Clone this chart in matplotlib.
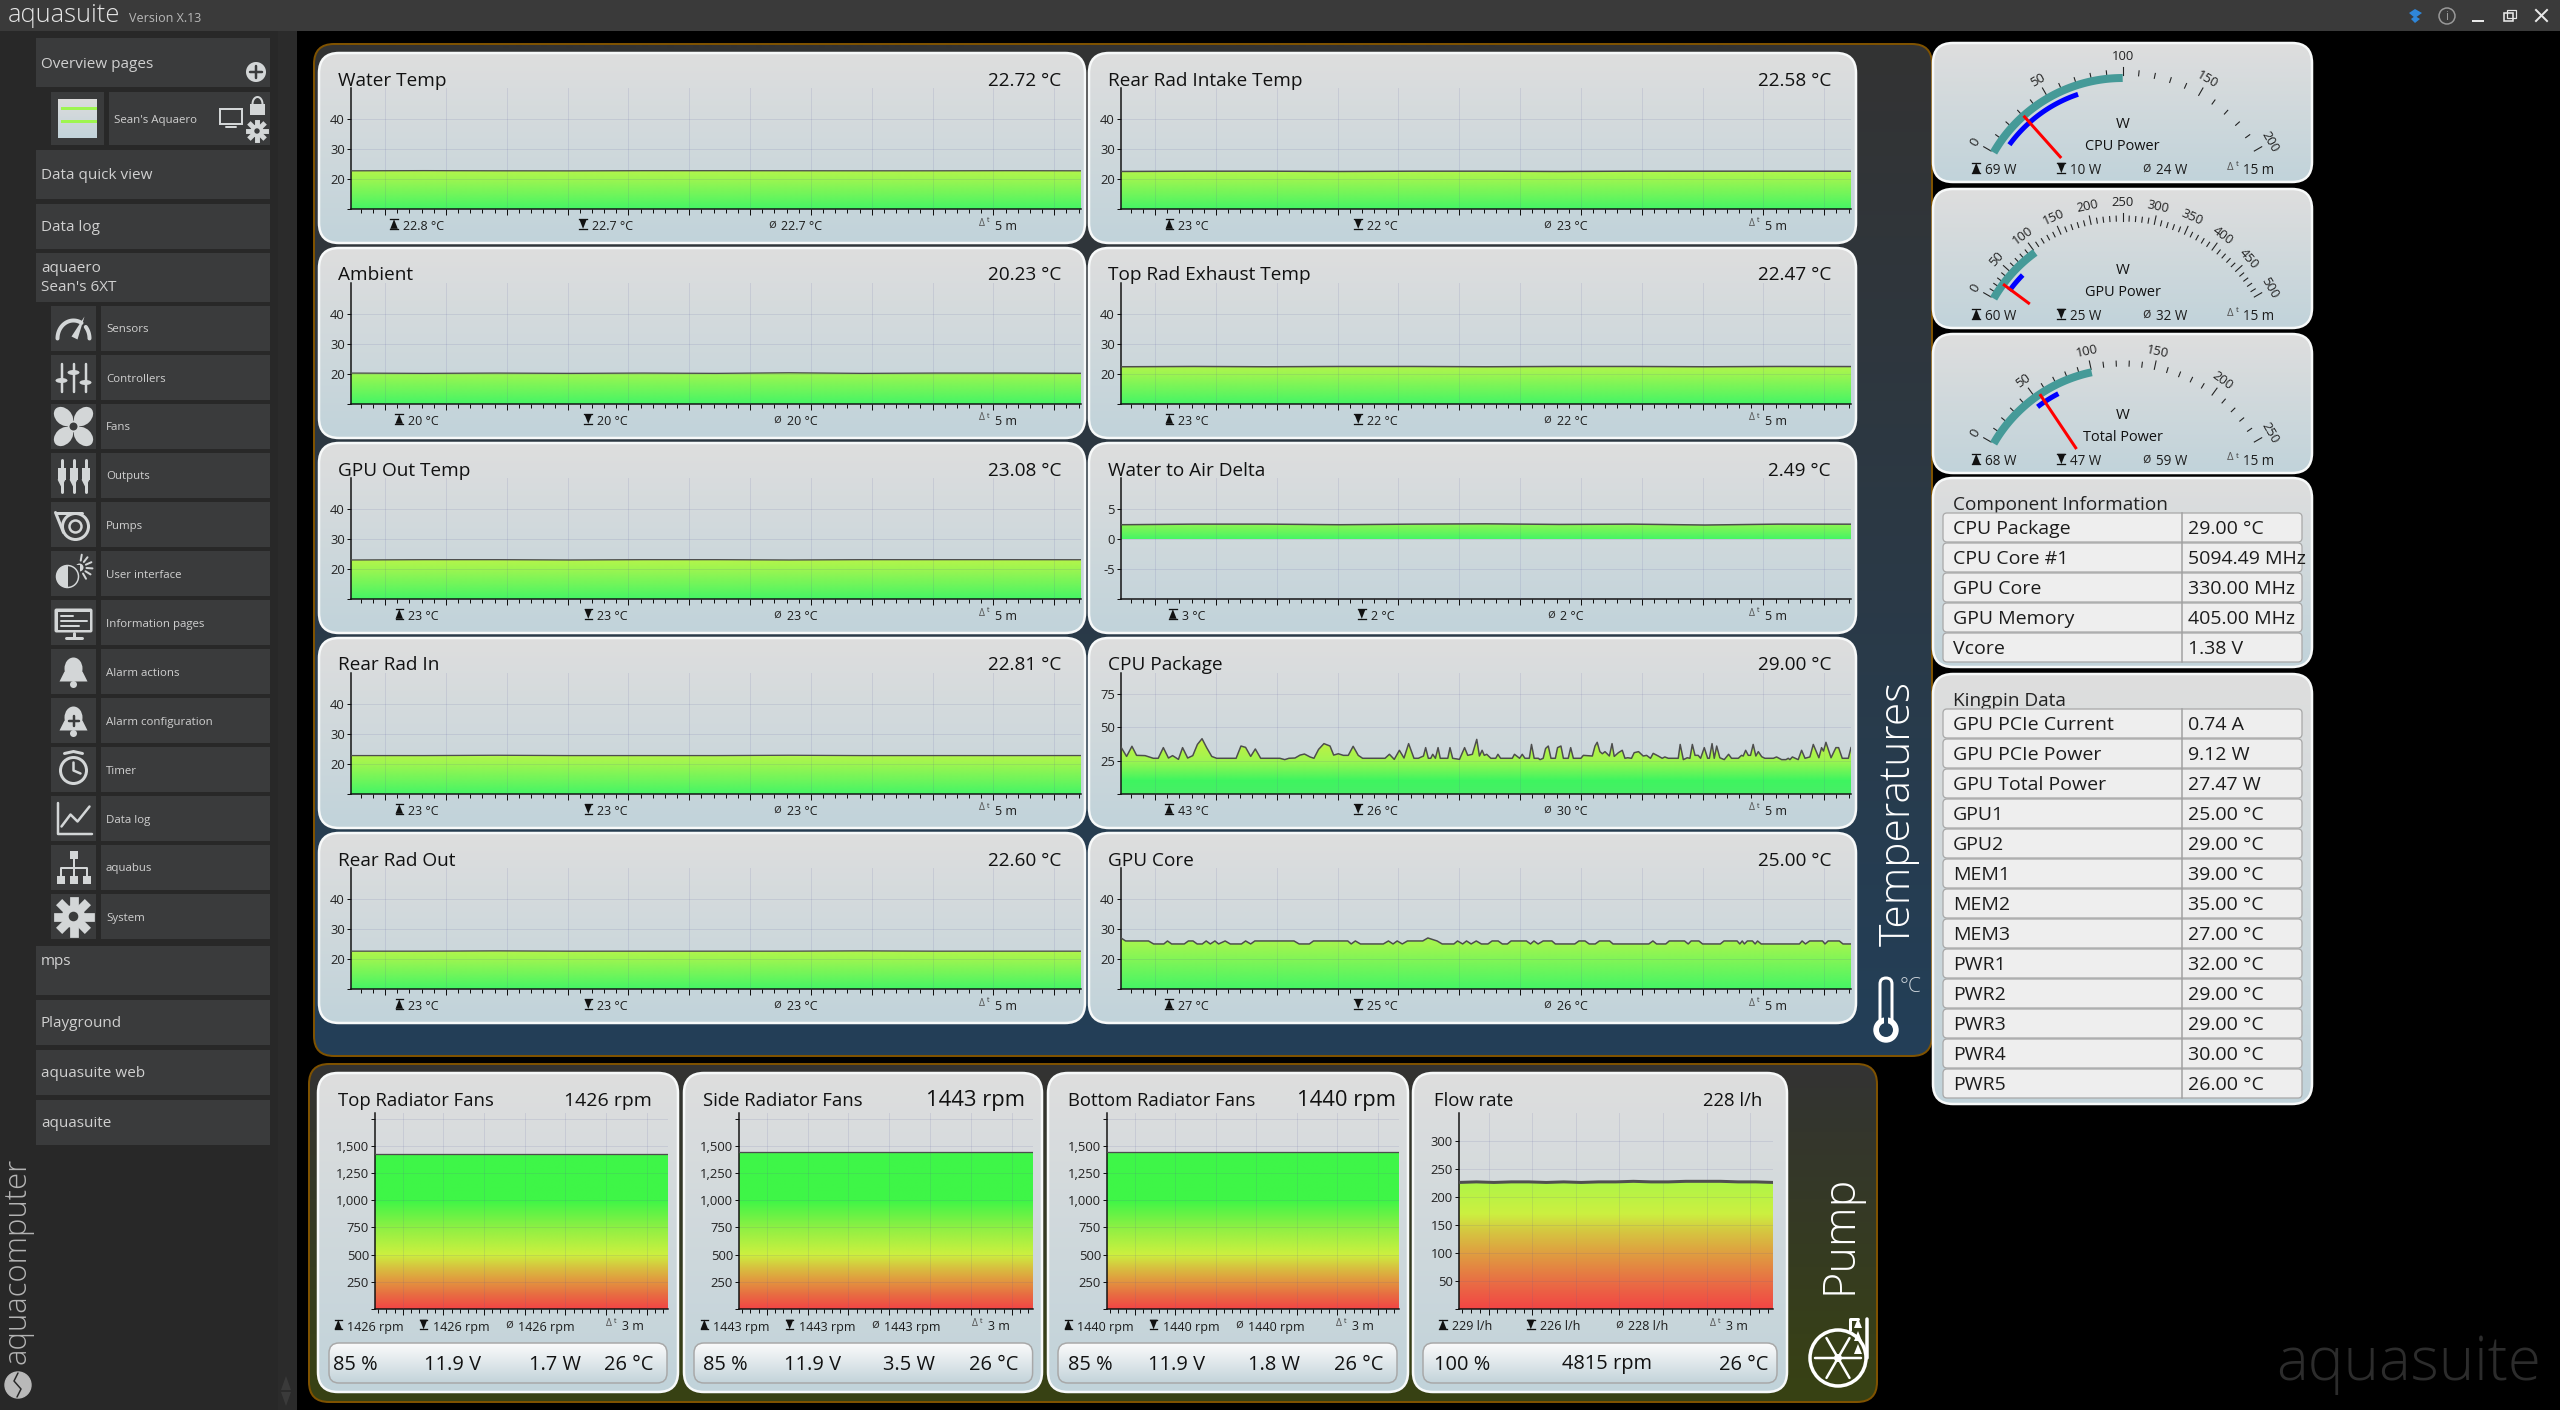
import numpy as np
import matplotlib
matplotlib.use("Agg")
import matplotlib.pyplot as plt
from matplotlib.patches import FancyBboxPatch, Rectangle, Polygon, Circle, Ellipse
from matplotlib.colors import LinearSegmentedColormap, to_rgb

plt.rcParams['font.family'] = ['Open Sans', 'DejaVu Sans']

# ------------------------- data -------------------------
TEMP_T = [0, 30, 60, 90, 120, 150, 180, 210, 240, 270, 300]
WATER = [22.72, 22.78, 22.72, 22.70, 22.76, 22.76, 22.74, 22.72, 22.72, 22.76, 22.72]
REAR_INTAKE = [22.5, 22.6, 22.6, 22.5, 22.6, 22.6, 22.5, 22.6, 22.6, 22.6, 22.58]
AMBIENT = [20.3, 20.2, 20.3, 20.2, 20.3, 20.2, 20.4, 20.2, 20.3, 20.3, 20.23]
TOP_EXHAUST = [22.4, 22.5, 22.4, 22.5, 22.5, 22.4, 22.5, 22.5, 22.4, 22.5, 22.47]
GPU_OUT = [23.0, 23.1, 23.1, 23.0, 23.1, 23.1, 23.0, 23.1, 23.1, 23.1, 23.08]
DELTA = [2.4, 2.5, 2.5, 2.4, 2.5, 2.55, 2.45, 2.5, 2.35, 2.5, 2.49]
REAR_IN = [22.8, 22.8, 22.9, 22.8, 22.8, 22.8, 22.9, 22.8, 22.8, 22.8, 22.81]
REAR_OUT = [22.6, 22.6, 22.7, 22.6, 22.6, 22.6, 22.6, 22.7, 22.6, 22.6, 22.60]

CPU_T = [0, 2.3, 4.5, 6.4, 9.9, 13.3, 15.3, 17.4, 19.5, 21.2, 23.6, 25.3, 27.4, 29.5, 31.4, 33.3, 35.2, 37.3, 39.3, 47.3,
         49.3, 51.2, 53.3, 55.2, 57.4, 65.3, 67.3, 69, 71.5, 73.6, 75.4, 77.7, 79.3, 81.2, 83.4, 85.9, 87.4, 89.3, 91.4, 93.4,
         95.4, 97.5, 99.3, 108.5, 110.3, 112.3, 114.4, 116.3, 118.2, 120.4, 122.2, 124.3, 125.2, 126.3, 127.3, 128.1, 129.2,
         130.3, 131.2, 134.3, 135.2, 136.3, 139.1, 141.2, 142.5, 144.4, 146.2, 147.3, 148.4, 149.3, 150.3, 152, 154, 154.9,
         156, 160.8, 161.7, 163.8, 164.9, 166, 167.8, 168.7, 169.8, 171.5, 172.2, 173.5, 174.5, 175.6, 176.7, 178.5, 179.4,
         180.8, 181.8, 183.8, 184.8, 185.9, 189, 190, 193.7, 194.8, 195.7, 196.8, 197.8, 198.9, 200.7, 201.8, 202.7, 204.4,
         206, 207.1, 208.2, 209.8, 210.9, 212.7, 214.6, 216, 217.6, 218.7, 220.8, 222.4, 223.5, 224.9, 229, 229.8, 231.1,
         232.7, 233.8, 234.8, 235.9, 237.2, 238.2, 239.7, 241.1, 241.8, 242.9, 243.8, 244.8, 246.1, 247.9, 249.7, 250.9,
         253.7, 255, 255.7, 256.7, 257.8, 258.7, 259.8, 260.9, 261.9, 263.3, 264.6, 268.1, 269.4, 271.5, 273.3, 274.2, 274.9,
         275.9, 278.3, 279.7, 281.1, 283.1, 284.5, 286.8, 287.9, 288.7, 289.7, 291.8, 293.8, 294.9, 296.4, 298.9, 300]
CPU_V = [35.2, 28.2, 35.8, 29, 28.8, 26.8, 26.8, 34.8, 27, 28.8, 26, 34.8, 27, 28.8, 37.2, 41.5, 34.8, 28.2, 26.8, 26.8,
         36, 35, 28.2, 33.8, 26.8, 26.8, 25.8, 26.8, 27, 29.2, 30, 27.8, 26.8, 33.5, 37.8, 36, 29.2, 30.2, 29, 29,
         35.8, 29, 26.8, 26.8, 29.8, 26, 32.8, 27, 37.8, 26.8, 26.8, 28.5, 34.8, 26.8, 26.8, 29.8, 26.8,
         34.8, 26.8, 26.8, 34.8, 26.8, 26, 34.8, 29, 29.8, 41, 28.5, 32.8, 29, 29.8, 26.8, 26.8, 29.8,
         26.8, 26.8, 29.8, 26.8, 29.8, 26.8, 26.8, 37.2, 26.8, 26.8, 25.8, 26.8, 34.2, 36, 26.8, 26.8, 34.8,
         36, 26.8, 26.8, 34.8, 26.8, 26.8, 29, 28.5, 36, 38.8, 31.8, 30.2, 31.8, 28.5, 37.8, 28.2, 31,
         32.8, 26.8, 27.2, 26.8, 31, 31.8, 28.5, 29, 26.8, 30.5, 28.5, 26.8, 27.8, 26.8, 26.8, 37.2, 25.8,
         27.2, 26.8, 37.2, 29, 29, 26.8, 34.8, 26.8, 26.8, 37.8, 26.8, 36, 27.2, 25.8, 29.8, 26.8,
         26.8, 29, 28.5, 32.8, 29, 29, 37.2, 28.5, 31.8, 28, 26.8, 26.8, 27.8, 25.8, 25.8, 26.8, 25.8,
         27.8, 25.8, 32.8, 26.8, 27.8, 37.2, 27.2, 34.8, 32.2, 38.8, 27.2, 34.8, 34.8, 26.8, 26.8, 34.8]

GPU_T = [0, 1.9, 11.3, 13.4, 17.6, 19.1, 20.8, 26, 27.7, 29.6, 31.3, 33.4, 35, 36.7, 38.6, 40.1, 42.8, 44.9, 49.5, 51.2, 53.3,
         55, 71.1, 73.2, 77.4, 79.1, 93.2, 94.6, 96.3, 98.4, 107.8, 109.9, 111.8, 113.5, 115.6, 117.7, 124, 126.1, 129.9, 132,
         136.8, 138.3, 140.4, 142, 143.9, 146, 148.1, 150.8, 152.5, 155, 156.7, 158.8, 160.3, 166.6, 168.3, 169.7, 171.4,
         173.5, 177.1, 178.5, 186.5, 188.2, 190.7, 192.4, 194.9, 196.6, 200.8, 202.2, 216.9, 218.6, 220.1, 223.9, 225.3,
         231.6, 233.1, 234.3, 237.5, 239, 246.3, 247.8, 253.2, 254.3, 255.3, 256.2, 257.4, 259.5, 260.6, 261.6, 263.1, 278.8,
         279.9, 281.3, 283, 288.3, 289.3, 290.6, 295.2, 296.7, 300]
GPU_V = [27, 26, 26, 25, 25, 26, 25, 25, 26, 26, 25, 25, 26, 25, 26, 25, 26, 25, 25, 26, 25,
         26, 26, 25, 25, 26, 26, 25, 26, 25, 25, 26, 25, 26, 25, 26, 26, 27, 26, 25,
         25, 26, 25, 26, 25, 26, 25, 25, 26, 26, 25, 25, 26, 26, 25, 26, 25,
         26, 26, 25, 25, 26, 26, 25, 25, 26, 26, 25, 25, 26, 25, 25, 26,
         26, 25, 26, 26, 25, 25, 26, 26, 25, 26, 25, 26, 26, 25, 26, 25, 25,
         26, 25, 26, 26, 25, 26, 26, 25, 25]

FAN_T = [0, 90, 180]
TOP_FAN = [1426, 1426, 1426]
SIDE_FAN = [1443, 1443, 1443]
BOTTOM_FAN = [1440, 1440, 1440]
FLOW_T = [0, 10, 20, 30, 40, 50, 60, 70, 80, 90, 100, 110, 120, 130, 140, 150, 160, 170, 180]
FLOW = [226, 227, 226, 227, 227, 226, 227, 226, 227, 227, 228, 227, 227, 228, 228, 228, 227, 227, 226]

TEMP_TICKS, TEMP_LABELS = [10, 20, 30, 40], ['', '20', '30', '40']
CPU_TICKS, CPU_LABELS = [0, 25, 50, 75], ['', '25', '50', '75']
DELTA_TICKS, DELTA_LABELS = [-10, -5, 0, 5], ['', '-5', '0', '5']
FAN_TICKS = [0, 250, 500, 750, 1000, 1250, 1500, 1750]
FAN_LABELS = ['', '250', '500', '750', '1,000', '1,250', '1,500', '']
FLOW_TICKS = [0, 50, 100, 150, 200, 250, 300]
FLOW_LABELS = ['', '50', '100', '150', '200', '250', '300']

TEMP_STOPS = [(10, '#45f565'), (20, '#9ef550'), (22.7, '#b2f54b'), (50, '#b2f54b')]
GPU_STOPS = [(10, '#45f565'), (25, '#a2f54f'), (50, '#a2f54f')]
CPU_STOPS = [(0, '#48ee66'), (10, '#3ef560'), (25, '#9ff550'), (42, '#c8f040'), (91, '#c8f040')]
DELTA_STOPS = [(0, '#45f565'), (2.5, '#8ef552'), (10, '#8ef552')]
FAN_STOPS = [(0, '#f24545'), (125, '#e86b42'), (250, '#e2953f'), (375, '#d8c03f'), (500, '#ccf03f'),
             (750, '#8df044'), (1000, '#3ef647'), (1800, '#40f64a')]
FLOW_STOPS = [(0, '#f24545'), (50, '#e87044'), (100, '#df9f40'), (140, '#d5c840'), (170, '#ccf040'),
              (228, '#aef548'), (350, '#aef548')]

LEFT_COL = [
    ('Water Temp', '22.72 °C', ('22.8 °C', '22.7 °C', '22.7 °C', '5 m'), WATER),
    ('Ambient', '20.23 °C', ('20 °C', '20 °C', '20 °C', '5 m'), AMBIENT),
    ('GPU Out Temp', '23.08 °C', ('23 °C', '23 °C', '23 °C', '5 m'), GPU_OUT),
    ('Rear Rad In', '22.81 °C', ('23 °C', '23 °C', '23 °C', '5 m'), REAR_IN),
    ('Rear Rad Out', '22.60 °C', ('23 °C', '23 °C', '23 °C', '5 m'), REAR_OUT),
]
RIGHT_NAMES = ['Rear Rad Intake Temp', 'Top Rad Exhaust Temp', 'Water to Air Delta', 'CPU Package', 'GPU Core']
RIGHT_READ = ['22.58 °C', '22.47 °C', '2.49 °C', '29.00 °C', '25.00 °C']
RIGHT_STATS = [('23 °C', '22 °C', '23 °C', '5 m'), ('23 °C', '22 °C', '22 °C', '5 m'), ('3 °C', '2 °C', '2 °C', '5 m'),
               ('43 °C', '26 °C', '30 °C', '5 m'), ('27 °C', '25 °C', '26 °C', '5 m')]

GAUGE_NAMES = ['CPU Power', 'GPU Power', 'Total Power']
GAUGE_MAX = [200, 500, 250]
GAUGE_RANGE = [100, 100, 100]
GAUGE_MIN_V = [10, 25, 47]
GAUGE_MAX_V = [69, 60, 68]
GAUGE_AVG = [24, 32, 59]
GAUGE_NOW = [30.5, 27.5, 54.6]

COMP_ROWS = ['CPU Package', 'CPU Core #1', 'GPU Core', 'GPU Memory', 'Vcore']
COMP_VALS = ['29.00 °C', '5094.49 MHz', '330.00 MHz', '405.00 MHz', '1.38 V']
KING_ROWS = ['GPU PCIe Current', 'GPU PCIe Power', 'GPU Total Power', 'GPU1', 'GPU2', 'MEM1', 'MEM2', 'MEM3',
             'PWR1', 'PWR2', 'PWR3', 'PWR4', 'PWR5']
KING_VALS = ['0.74 A', '9.12 W', '27.47 W', '25.00 °C', '29.00 °C', '39.00 °C', '35.00 °C', '27.00 °C',
             '32.00 °C', '29.00 °C', '29.00 °C', '30.00 °C', '26.00 °C']

NAV_SUB = ['Sensors', 'Controllers', 'Fans', 'Outputs', 'Pumps', 'User interface', 'Information pages',
           'Alarm actions', 'Alarm configuration', 'Timer', 'Data log', 'aquabus', 'System']

# ------------------------- canvas -------------------------
W, H = 2560, 1410
fig = plt.figure(figsize=(W / 100, H / 100), dpi=100, facecolor='black')
bg = fig.add_axes([0, 0, 1, 1])
bg.set_xlim(0, W)
bg.set_ylim(H, 0)
bg.set_autoscale_on(False)
bg.axis('off')
renderer = fig.canvas.get_renderer()
px = 0.72  # points per pixel


def vgrad(x0, y0, x1, y1, top, bottom, r=0, edge=None, elw=2, z=0.5):
    t, b = np.array(to_rgb(top)), np.array(to_rgb(bottom))
    f = np.linspace(0, 1, 128)[:, None, None]
    arr = t[None, None, :] * (1 - f) + b[None, None, :] * f
    im = bg.imshow(arr, extent=(x0, x1, y1, y0), origin='upper', aspect='auto', zorder=z, interpolation='bilinear')
    p = FancyBboxPatch((x0, y0), x1 - x0, y1 - y0, boxstyle=f'round,pad=0,rounding_size={r}',
                       fc='none', ec=edge if edge else 'none', lw=elw * px, zorder=z + 0.01)
    bg.add_patch(p)
    im.set_clip_path(p)
    return p


def txt(x, y, s, size, color='#111111', ha='left', va='center', **kw):
    kw.setdefault('zorder', 6)
    if 'rotation' not in kw:
        y = y + 1.5
    return bg.text(x, y, s, fontsize=size * px, color=color, ha=ha, va=va, **kw)


def stat_icon(kind, cx, cy, s=1.0):
    k = '#111111'
    if kind == 0 or kind == 1:
        w, h = 3.6 * s, 4.6 * s
        bg.plot([cx - w, cx + w], [cy - h, cy - h], color=k, lw=1.3 * px, zorder=6)
        bg.plot([cx - w, cx + w], [cy + h, cy + h], color=k, lw=1.3 * px, zorder=6)
        if kind == 0:
            tri = [(cx, cy - h), (cx - w, cy + h), (cx + w, cy + h)]
        else:
            tri = [(cx, cy + h), (cx - w, cy - h), (cx + w, cy - h)]
        bg.add_patch(Polygon(tri, fc=k, ec='none', zorder=6))
    elif kind == 2:
        txt(cx, cy - 1.5, 'ø', 12.5 * s, '#333333', ha='center')
    else:
        txt(cx - 1.5, cy - 2.5, 'Δ', 10 * s, '#555555', ha='center')
        txt(cx + 5 * s, cy - 4.5, 't', 7 * s, '#333333', ha='center')


def stats(centres, y, values, size):
    for i, (c, v) in enumerate(zip(centres, values)):
        t = txt(c + 6, y, v, size, '#1c1c1c', ha='center')
        ext = t.get_window_extent(renderer)
        stat_icon(i, ext.x0 - 9 - (3 if i == 3 else 0), y - 1, size / 12.0)


def chart(x0, x1, y0, y1, t, v, ylim, ticks, labels, stops, tmax, offset, base=None, lw=1.3, line='#4d4d4d'):
    ax = fig.add_axes([x0 / W, 1 - y1 / H, (x1 - x0) / W, (y1 - y0) / H], facecolor='none')
    ax.set_xlim(0, tmax)
    ax.set_ylim(*ylim)
    ax.set_autoscale_on(False)
    lo = stops[0][0]
    hi = stops[-1][0]
    cmap = LinearSegmentedColormap.from_list('g', [((a - lo) / (hi - lo), c) for a, c in stops], N=256)
    floor = ylim[0] if base is None else base
    poly = ax.fill_between(t, v, floor, facecolor='none', edgecolor='none')
    col = np.linspace(lo, hi, 256)[:, None]
    im = ax.imshow(col, extent=(0, tmax, lo, hi), origin='lower', cmap=cmap, aspect='auto',
                   vmin=lo, vmax=hi, zorder=1, interpolation='bilinear')
    im.set_clip_path(poly.get_paths()[0], ax.transData)
    ax.plot(t, v, color=line, lw=lw * px, zorder=3, solid_joinstyle='round')
    for s in ('top', 'right'):
        ax.spines[s].set_visible(False)
    for s in ('left', 'bottom'):
        ax.spines[s].set_color('#111111')
        ax.spines[s].set_linewidth(1.5 * px)
    major = np.arange(offset, tmax, 25)
    minor = np.arange(offset % 5, tmax + 0.1, 5)
    ax.set_xticks(major)
    ax.set_xticks(minor, minor=True)
    ax.set_xticklabels([])
    ax.tick_params(axis='x', which='major', length=6 * px, width=1 * px, color='#111111')
    ax.tick_params(axis='x', which='minor', length=3.5 * px, width=1 * px, color='#111111')
    ax.set_yticks(ticks)
    ax.set_yticklabels(labels, fontsize=13 * px, color='#222222')
    ax.tick_params(axis='y', length=4 * px, width=1 * px, color='#111111', pad=1.5)
    ax.grid(True, which='major', color='#5a5a9e', alpha=0.13, lw=1 * px, zorder=2)
    ax.set_axisbelow(False)
    return ax


# ------------------------- window chrome -------------------------
bg.add_patch(Rectangle((0, 0), 297, H, fc='#282828', ec='none', zorder=0.1))
bg.add_patch(Rectangle((278, 31), 19, H, fc='#2b2b2b', ec='none', zorder=0.11))
bg.add_patch(Rectangle((0, 0), W, 31, fc='#3a3a3a', ec='none', zorder=0.2))
txt(8, 14, 'aquasuite', 25.5, '#e6e6e6', weight='light')
txt(129, 17, 'Version X.13', 12.5, '#b8b8b8')
GREY = '#d3d6d7'
bg.add_patch(Polygon([(2409, 13), (2415, 9), (2422, 13), (2415, 18)], fc='#2f86d8', zorder=3))
bg.add_patch(Polygon([(2411, 19), (2415, 16), (2420, 19), (2415, 23)], fc='#2f86d8', zorder=3))
bg.add_patch(Circle((2447, 16), 8, fc='none', ec='#9a9a9a', lw=1.5 * px, zorder=3))
txt(2447, 15, 'i', 12, '#9a9a9a', ha='center')
bg.plot([2473, 2483], [21, 21], color='#e8e8e8', lw=2 * px, zorder=3)
bg.add_patch(Rectangle((2504, 13), 9, 8, fc='none', ec='#e8e8e8', lw=1.6 * px, zorder=3))
bg.add_patch(Rectangle((2507, 10), 9, 8, fc='none', ec='#e8e8e8', lw=1.2 * px, zorder=2.9))
bg.plot([2536, 2547], [10, 21], color='#e8e8e8', lw=2 * px, zorder=3)
bg.plot([2536, 2547], [21, 10], color='#e8e8e8', lw=2 * px, zorder=3)

# ------------------------- sidebar -------------------------
BOX = '#3a3b3c'


def nav(y0, y1, label=None, ty=None, x0=36, x1=270, size=15.3):
    bg.add_patch(Rectangle((x0, y0), x1 - x0, y1 - y0, fc=BOX, ec='none', zorder=0.3))
    if label:
        txt(x0 + 5, (y0 + y1) / 2 if ty is None else ty, label, size, '#d0d0d0')


def gear(cx, cy, r, c=GREY):
    for a in np.linspace(0, 2 * np.pi, 8, endpoint=False):
        bg.plot([cx, cx + r * np.cos(a)], [cy, cy + r * np.sin(a)], color=c, lw=r * 0.42 * px * 1.3, zorder=5)
    bg.add_patch(Circle((cx, cy), r * 0.72, fc=c, ec='none', zorder=5))
    bg.add_patch(Circle((cx, cy), r * 0.3, fc=BOX, ec='none', zorder=5.1))


def ln(xs, ys, w=3, c=GREY, z=5):
    bg.plot(xs, ys, color=c, lw=w * px, zorder=z, solid_capstyle='round')


def ic(i, cx, cy):
    if i == 0:
        a = np.radians(np.linspace(180, 60, 30))
        ln(cx + 16 * np.cos(a), cy + 10 - 18 * np.sin(a), 4)
        a = np.radians(np.linspace(40, 0, 10))
        ln(cx + 16 * np.cos(a), cy + 10 - 18 * np.sin(a), 4)
        bg.add_patch(Polygon([(cx + 11, cy - 12), (cx - 2, cy + 8), (cx + 4, cy + 11)], fc=GREY, zorder=5))
    elif i == 1:
        for dx, k in ((-12, 3), (0, -5), (12, 5)):
            ln([cx + dx, cx + dx], [cy - 14, cy + 14], 2.5)
            bg.add_patch(Ellipse((cx + dx, cy + k), 12, 5, fc=GREY, zorder=5))
    elif i == 2:
        for dx, dy in ((-10, -10), (10, -10), (-10, 10), (10, 10)):
            bg.add_patch(Ellipse((cx + dx, cy + dy), 22, 16, angle=45 if dx * dy > 0 else -45, fc=GREY, zorder=5))
        bg.add_patch(Circle((cx, cy), 5, fc=BOX, ec=GREY, lw=2 * px, zorder=5.2))
    elif i == 3:
        for dx in (-12, 0, 12):
            ln([cx + dx, cx + dx], [cy - 16, cy + 16], 3)
            bg.add_patch(Rectangle((cx + dx - 4, cy - 8), 8, 12, fc=GREY, zorder=5))
            bg.add_patch(Polygon([(cx + dx - 4, cy + 4), (cx + dx + 4, cy + 4), (cx + dx, cy + 12)], fc=GREY, zorder=5))
    elif i == 4:
        bg.add_patch(Circle((cx + 2, cy + 2), 13, fc='none', ec=GREY, lw=3 * px, zorder=5))
        bg.add_patch(Circle((cx + 2, cy + 2), 6, fc='none', ec=GREY, lw=2.5 * px, zorder=5))
        ln([cx - 18, cx + 8], [cy - 12, cy - 12], 3)
        ln([cx - 18, cx - 10], [cy - 12, cy + 8], 3)
    elif i == 5:
        bg.add_patch(Circle((cx - 6, cy + 3), 11, fc=GREY, zorder=5))
        bg.add_patch(Rectangle((cx - 6, cy - 9), 12, 24, fc=BOX, zorder=5.1))
        bg.add_patch(Circle((cx - 6, cy + 3), 11, fc='none', ec=GREY, lw=1.5 * px, zorder=5.2))
        for a in np.linspace(-80, 60, 6):
            ca, sa = np.cos(np.radians(a)), np.sin(np.radians(a))
            ln([cx + 6 + 7 * ca, cx + 6 + 13 * ca], [cy - 6 + 7 * sa, cy - 6 + 13 * sa], 2)
        bg.add_patch(Circle((cx + 6, cy - 6), 4, fc=GREY, zorder=5))
    elif i == 6:
        bg.add_patch(FancyBboxPatch((cx - 19, cy - 14), 38, 24, boxstyle='round,pad=0,rounding_size=2', fc=GREY, ec='none', zorder=5))
        bg.add_patch(Rectangle((cx - 16, cy - 11), 32, 18, fc=BOX, zorder=5.1))
        for k, L in ((-7, 12), (-2, 26), (3, 18)):
            ln([cx - 13, cx - 13 + L], [cy + k, cy + k], 2, z=5.2)
        ln([cx - 8, cx + 8], [cy + 15, cy + 15], 3)
        ln([cx, cx], [cy + 10, cy + 15], 3)
    elif i in (7, 8):
        bg.add_patch(Ellipse((cx, cy - 3), 18, 22, fc=GREY, zorder=5))
        bg.add_patch(Polygon([(cx - 9, cy), (cx + 9, cy), (cx + 14, cy + 10), (cx - 14, cy + 10)], fc=GREY, zorder=5))
        bg.add_patch(Circle((cx, cy + 13), 3.5, fc=GREY, zorder=5))
        if i == 8:
            ln([cx - 5, cx + 5], [cy, cy], 2.5, BOX, 5.2)
            ln([cx, cx], [cy - 5, cy + 5], 2.5, BOX, 5.2)
    elif i == 9:
        bg.add_patch(Circle((cx, cy + 1), 13, fc='none', ec=GREY, lw=3 * px, zorder=5))
        ln([cx, cx, cx + 7], [cy - 7, cy + 1, cy + 4], 2.5)
        ln([cx - 9, cx, cx + 9], [cy - 16, cy - 18, cy - 16], 3)
    elif i == 10:
        ln([cx - 16, cx - 16, cx + 18], [cy - 16, cy + 15, cy + 15], 2.5)
        ln([cx - 12, cx - 3, cx + 4, cx + 16], [cy + 8, cy - 4, cy + 3, cy - 12], 2.5)
    elif i == 11:
        bg.add_patch(Rectangle((cx - 4, cy - 17), 8, 8, fc=GREY, zorder=5))
        ln([cx, cx], [cy - 9, cy + 8], 2)
        ln([cx - 13, cx - 13, cx + 13, cx + 13], [cy + 8, cy, cy, cy + 8], 2)
        for dx in (-13, 0, 13):
            bg.add_patch(Rectangle((cx + dx - 4, cy + 8), 8, 8, fc=GREY, zorder=5))
    else:
        gear(cx, cy, 16)


nav(38, 87, 'Overview pages', 63)
nav(92, 145, x0=51, x1=104)
nav(92, 145, "Sean's Aquaero", 119, x0=109, size=11.5)
vgrad(58, 99, 97, 138, '#dcdcdc', '#c2d3da')
bg.add_patch(Rectangle((61, 107), 36, 3, fc='#9ef550', zorder=1))
bg.add_patch(Rectangle((61, 120), 36, 3, fc='#9ef550', zorder=1))
bg.add_patch(Circle((256, 72), 10, fc=GREY, zorder=5))
ln([250, 262], [72, 72], 2.5, BOX, 5.2)
ln([256, 256], [66, 78], 2.5, BOX, 5.2)
bg.add_patch(Rectangle((220, 109), 22, 15, fc='none', ec=GREY, lw=2 * px, zorder=5))
ln([226, 236], [127, 127], 2)
bg.add_patch(Rectangle((250, 104), 15, 11, fc=GREY, zorder=5))
a = np.radians(np.linspace(0, 180, 20))
ln(257.5 + 5 * np.cos(a), 104 - 7 * np.sin(a), 2)
gear(257, 131, 9)
nav(150, 199, 'Data quick view', 174)
nav(204, 249, 'Data log', 226)
nav(253, 302)
txt(41, 267, 'aquaero', 15.3, '#d0d0d0')
txt(41, 286, "Sean's 6XT", 15.3, '#d0d0d0')
for k, name in enumerate(NAV_SUB):
    y = 306 + 49 * k
    nav(y, y + 45, x0=51, x1=96)
    nav(y, y + 45, name, x0=101, size=11.5)
    ic(k, 73.5, y + 22.5)
nav(946, 995, 'mps', 960)
nav(1000, 1045, 'Playground', 1022)
nav(1050, 1095, 'aquasuite web', 1072)
nav(1100, 1145, 'aquasuite', 1122)
txt(18, 1261, 'aquacomputer', 31, '#b4b4b4', ha='center', rotation=90, weight='light')
bg.add_patch(Circle((18, 1385), 13, fc='#b9b9b9', ec='#b9b9b9', zorder=5))
ln([18, 14, 21, 17], [1373, 1381, 1389, 1397], 1.5, '#282828', 5.2)
bg.add_patch(Polygon([(281, 1390), (291, 1390), (286, 1376)], fc='#3a3a3a', zorder=1))
bg.add_patch(Polygon([(281, 1392), (291, 1392), (286, 1406)], fc='#3a3a3a', zorder=1))
txt(2541, 1363, 'aquasuite', 60, '#2c2c2c', ha='right', weight='light')

# ------------------------- temperatures panel -------------------------
vgrad(314, 44, 1932, 1056, '#333333', '#233f58', r=20, edge='#7f5200', elw=2, z=0.4)
ROW_TOP = [53, 248, 443, 638, 833]
for r, (name, read, st, series) in enumerate(LEFT_COL):
    top = ROW_TOP[r]
    vgrad(319, top, 1085, top + 190, '#dedede', '#c1d3da', r=20, edge='#f7f9f9', elw=2.5)
    txt(338, top + 26, name, 19)
    txt(1061, top + 26, read, 19, ha='right')
    stats([319 + o for o in (98.6, 287.6, 477, 681)], top + 172, st, 12.5)
    chart(351, 1081, top + 35, top + 156, TEMP_T, series, (10, 50.3), TEMP_TICKS, TEMP_LABELS, TEMP_STOPS, 300, 14)

RIGHT_SERIES = [(TEMP_T, REAR_INTAKE), (TEMP_T, TOP_EXHAUST), (TEMP_T, DELTA), (CPU_T, CPU_V), (GPU_T, GPU_V)]
RIGHT_YLIM = [(10, 50.3), (10, 50.3), (-10, 10.2), (0, 90.8), (10, 50.3)]
RIGHT_TICKS = [TEMP_TICKS, TEMP_TICKS, DELTA_TICKS, CPU_TICKS, TEMP_TICKS]
RIGHT_LABELS = [TEMP_LABELS, TEMP_LABELS, DELTA_LABELS, CPU_LABELS, TEMP_LABELS]
RIGHT_STOPS = [TEMP_STOPS, TEMP_STOPS, DELTA_STOPS, CPU_STOPS, GPU_STOPS]
RIGHT_BASE = [None, None, 0, None, None]
for r in range(5):
    top = ROW_TOP[r]
    vgrad(1089, top, 1856, top + 190, '#dedede', '#c1d3da', r=20, edge='#f7f9f9', elw=2.5)
    txt(1108, top + 26, RIGHT_NAMES[r], 19)
    txt(1831, top + 26, RIGHT_READ[r], 19, ha='right')
    stats([1089 + o for o in (98.6, 287.6, 477, 681)], top + 172, RIGHT_STATS[r], 12.5)
    t, v = RIGHT_SERIES[r]
    chart(1121, 1851, top + 35, top + 156, t, v, RIGHT_YLIM[r], RIGHT_TICKS[r], RIGHT_LABELS[r],
          RIGHT_STOPS[r], 300, 14, base=RIGHT_BASE[r], lw=1.5)

txt(1898, 813, 'Temperatures', 42.5, 'white', ha='center', rotation=90, weight='light')
txt(1911, 985, '°C', 21, '#cfd6dc', ha='center', weight='light')
bg.add_patch(FancyBboxPatch((1880, 978), 12, 48, boxstyle='round,pad=0,rounding_size=6', fc='none', ec='white', lw=3 * px, zorder=5))
bg.add_patch(Circle((1886, 1030), 12, fc='white', ec='white', zorder=5))
ln([1886, 1886], [1000, 1030], 4, '#233f58', 5.2)
bg.add_patch(Circle((1886, 1030), 7, fc='#233f58', zorder=5.1))

# ------------------------- pump panel -------------------------
vgrad(309, 1064, 1877, 1402, '#333333', '#384213', r=20, edge='#7f5200', elw=2, z=0.4)
FAN_CARDS = [
    (318, 678, 375, 668, 338, 652, 19.5, 'Top Radiator Fans', '1426 rpm', ('1426 rpm', '1426 rpm', '1426 rpm', '3 m'),
     TOP_FAN, ('85 %', '11.9 V', '1.7 W', '26 °C'), 329, 667, (333, 424.5, 528.6, 653)),
    (684, 1042, 739, 1033, 703, 1025.5, 22, 'Side Radiator Fans', '1443 rpm', ('1443 rpm', '1443 rpm', '1443 rpm', '3 m'),
     SIDE_FAN, ('85 %', '11.9 V', '3.5 W', '26 °C'), 694, 1032.6, (703, 783.7, 883, 1018)),
    (1048, 1408, 1107, 1399, 1068, 1396, 22, 'Bottom Radiator Fans', '1440 rpm', ('1440 rpm', '1440 rpm', '1440 rpm', '3 m'),
     BOTTOM_FAN, ('85 %', '11.9 V', '1.8 W', '26 °C'), 1058, 1397, (1068, 1148, 1248, 1383)),
]
for (c0, c1, a0, a1, tx, vx, vs, name, read, st, series, pills, p0, p1, ps) in FAN_CARDS:
    vgrad(c0, 1073, c1, 1392, '#dedede', '#c1d3da', r=20, edge='#f7f9f9', elw=2.5)
    txt(tx, 1099, name, 18.5)
    txt(vx, 1099, read, vs, ha='right')
    stats([c0 + o for o in (51.6, 136.9, 222, 309)], 1325.5, st, 12.5)
    chart(a0, a1, 1113, 1309, FAN_T, series, (0, 1801), FAN_TICKS, FAN_LABELS, FAN_STOPS, 180, 17)
    vgrad(p0, 1343, p1, 1383, '#fbfbfb', '#c3d3da', r=10, edge='#a8a8a8', elw=1.5, z=0.7)
    for i, (x, s) in enumerate(zip(ps, pills)):
        txt(x, 1363, s, 20, ha='right' if i == 3 else 'left')

c0 = 1413
vgrad(c0, 1073, 1787, 1392, '#dedede', '#c1d3da', r=20, edge='#f7f9f9', elw=2.5)
txt(1434, 1099, 'Flow rate', 18.5)
txt(1762, 1099, '228 l/h', 18.5, ha='right')
stats([c0 + o for o in (53, 141, 229, 318)], 1325.5, ('229 l/h', '226 l/h', '228 l/h', '3 m'), 12.5)
chart(1459, 1773, 1113, 1309, FLOW_T, FLOW, (0, 350), FLOW_TICKS, FLOW_LABELS, FLOW_STOPS, 180, 17, lw=3, line='#505050')
vgrad(1423, 1343, 1777, 1383, '#fbfbfb', '#c3d3da', r=10, edge='#a8a8a8', elw=1.5, z=0.7)
txt(1434, 1363, '100 %', 20)
txt(1607, 1363, '4815 rpm', 20, ha='center')
txt(1768, 1363, '26 °C', 20, ha='right')

txt(1840, 1234, 'Pump', 45, 'white', ha='center', rotation=90, weight='light')
cx, cy = 1838, 1358
bg.add_patch(Circle((cx, cy), 28, fc='none', ec='white', lw=3.5 * px, zorder=5))
for a in np.radians(np.arange(0, 180, 60)):
    ln([cx - 23 * np.cos(a), cx + 23 * np.cos(a)], [cy - 23 * np.sin(a), cy + 23 * np.sin(a)], 2.5, 'white')
bg.add_patch(Circle((cx, cy), 4, fc='white', zorder=5))
ln([1867, 1867], [1319, 1358], 3.5, 'white')
ln([1850, 1850, 1858], [1330, 1319, 1319], 3, 'white')
for yy in (1323, 1336, 1349):
    bg.add_patch(Polygon([(1854, yy + 5), (1862, yy + 5), (1858, yy - 5)], fc='white', zorder=5))

# ------------------------- gauges -------------------------
GAUGE_TOPS = [43, 189, 334]
GCX = 2122.7
vgrad_edge = '#f7f9f9'


def pol(v, vmax, r, cy):
    a = np.radians(150 - 120 * np.asarray(v, dtype=float) / vmax)
    return GCX + r * np.cos(a), cy - r * np.sin(a)


for k in range(3):
    top = GAUGE_TOPS[k]
    vmax = GAUGE_MAX[k]
    cy = top + 184
    vgrad(1933, top, 2312, top + 139, '#dedede', '#c1d3da', r=20, edge=vgrad_edge, elw=2.5)
    for v in np.arange(0, vmax + 1, 10):
        major = v % 50 == 0
        r0, r1 = (152, 160.5) if major else (152, 157)
        xa, ya = pol(v, vmax, r0, cy)
        xb, yb = pol(v, vmax, r1, cy)
        bg.plot([xa, xb], [ya, yb], color='#222222', lw=1.1 * px, zorder=2)
        if major:
            xl, yl = pol(v, vmax, 170, cy)
            txt(xl, yl, str(int(v)), 13, '#222222', ha='center', rotation=60 - 120 * v / vmax,
                rotation_mode='anchor')
    xs, ys = pol(np.linspace(0, GAUGE_RANGE[k], 60), vmax, 149, cy)
    bg.plot(xs, ys, color='#459a98', lw=8 * px, solid_capstyle='butt', zorder=2.2)
    xs, ys = pol(np.linspace(GAUGE_MIN_V[k], GAUGE_MAX_V[k], 40), vmax, 140, cy)
    bg.plot(xs, ys, color='#0000ff', lw=5 * px, solid_capstyle='butt', zorder=2.3)
    xa, ya = pol(GAUGE_NOW[k], vmax, 149, cy)
    yend = top + 115
    f = (yend - ya) / (cy - ya)
    bg.plot([xa, xa + f * (GCX - xa)], [ya, yend], color='#ff0000', lw=3 * px, solid_capstyle='butt', zorder=2.4)
    txt(GCX, top + 80, 'W', 15, ha='center')
    txt(GCX, top + 102, GAUGE_NAMES[k], 14.5, ha='center')
    vals = (f'{GAUGE_MAX_V[k]} W', f'{GAUGE_MIN_V[k]} W', f'{GAUGE_AVG[k]} W', '15 m')
    stats([1933 + o for o in (62, 147, 232.5, 320)], top + 126, vals, 13.5)


# ------------------------- tables -------------------------
def table(top, bottom, title, names, values):
    vgrad(1933, top, 2312, bottom, '#dedede', '#c1d3da', r=20, edge=vgrad_edge, elw=2.5)
    txt(1953, top + 25, title, 19, '#222222', zorder=3)
    y = top + 35
    for n, v in zip(names, values):
        bg.add_patch(FancyBboxPatch((1943, y), 359, 29, boxstyle='round,pad=0,rounding_size=4', fc='#eeeeee',
                                    ec='#aaaaaa', lw=1.3 * px, zorder=4))
        bg.plot([2182, 2182], [y, y + 29], color='#a0a0a0', lw=1.5 * px, zorder=4.1)
        txt(1953, y + 15, n, 19.5, '#1c1c1c')
        txt(2188, y + 15, v, 19.5, '#1c1c1c')
        y += 30


table(478, 667, 'Component Information', COMP_ROWS, COMP_VALS)
table(674, 1104, 'Kingpin Data', KING_ROWS, KING_VALS)

fig.savefig('out.png', dpi=100, facecolor='black')
